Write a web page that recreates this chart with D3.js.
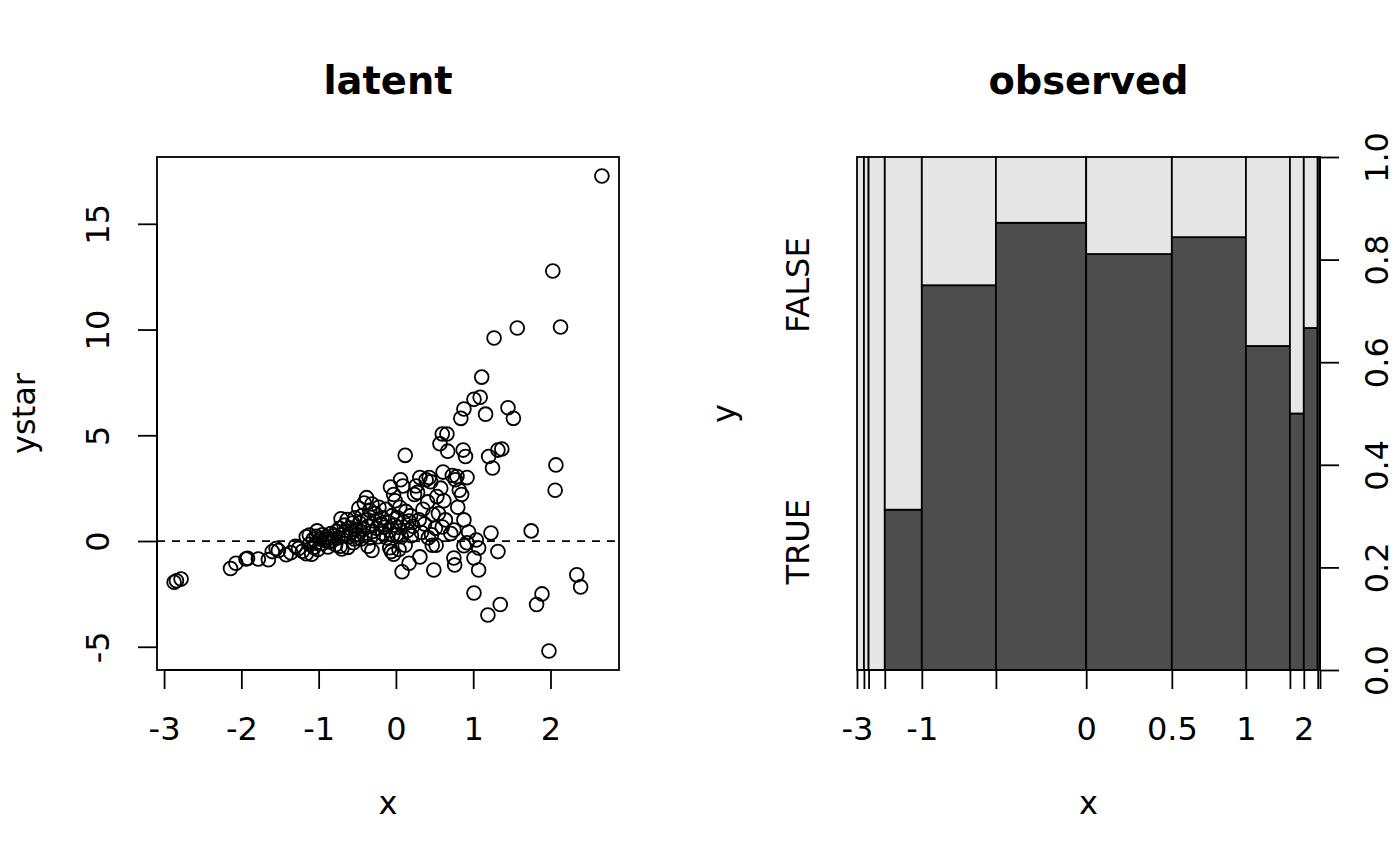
<!DOCTYPE html>
<html>
<head>
<meta charset="utf-8">
<script src="https://cdn.jsdelivr.net/npm/d3@7"></script>
<style>
  body { margin: 0; background: #fff; }
  text { font-family: "DejaVu Sans", sans-serif; fill: #000; }
</style>
</head>
<body>
<div id="chart"></div>
<script>
// latent variable: x and ystar (200 points)
const latentX = [
  -2.87, -2.84, -2.78, -2.14, -2.07, -1.94, -1.92, -1.78, -1.65, -1.60, -1.55, -1.52,
  -1.42, -1.36, -1.30, -1.26, -1.21, -1.16, -1.12, -1.09, -1.06, -1.03, -1.01, -1.16, -1.12, -1.07, -1.03, -1.02,
  -0.95, -0.88, -0.85, -0.78, -0.72, -0.70, -0.62, -0.55,
  -0.98, -0.95, -0.92, -0.90, -0.87, -0.84, -0.82, -0.80, -0.77, -0.75, -0.73, -0.71,
  -0.69, -0.67, -0.65, -0.63, -0.61, -0.60, -0.58, -0.56, -0.54, -0.53, -0.52, -0.51,
  -0.36, -0.31, -0.08, -0.06, -0.03,
  -0.49, -0.48, -0.47, -0.45, -0.44, -0.42, -0.41, -0.40, -0.38, -0.37, -0.36, -0.34,
  -0.33, -0.31, -0.30, -0.28, -0.27, -0.25, -0.23, -0.22, -0.20, -0.18, -0.17, -0.15,
  -0.13, -0.12, -0.10, -0.08, -0.07, -0.05, -0.04, -0.03, -0.02, -0.01,
  0.04, 0.08, 0.12, 0.17, 0.31, 0.47, 0.49,
  0.01, 0.02, 0.03, 0.05, 0.06, 0.07, 0.09, 0.10, 0.12, 0.13, 0.15, 0.17, 0.19, 0.20, 0.22,
  0.24, 0.26, 0.28, 0.30, 0.31, 0.33, 0.35, 0.37, 0.39, 0.41, 0.42, 0.43, 0.45, 0.46, 0.48,
  0.52, 0.75, 0.76, 0.88, 0.92,
  0.51, 0.53, 0.55, 0.57, 0.58, 0.60, 0.60, 0.61, 0.62, 0.64, 0.66, 0.67, 0.87, 0.71,
  0.73, 0.75, 0.77, 0.79, 0.80, 0.82, 0.84, 0.85, 0.88, 0.88, 0.90, 0.92, 0.94,
  1.01, 1.07, 1.07, 1.01, 1.19, 1.35, 1.32,
  1.01, 1.04, 1.09, 1.11, 1.16, 1.20, 1.23, 1.25, 1.27, 1.32, 1.37, 1.45,
  1.52, 1.57, 1.75, 1.82, 1.89, 1.98, 2.03, 2.13, 2.07, 2.06, 2.34, 2.39, 2.665
];
const latentY = [
  -1.95, -1.88, -1.80, -1.30, -1.05, -0.85, -0.82, -0.85, -0.88, -0.50, -0.35, -0.45,
  -0.65, -0.55, -0.25, -0.35, -0.48, -0.60, -0.15, -0.62, -0.30, -0.10, -0.40, 0.20, 0.28, 0.08, 0.22, 0.48,
  -0.12, -0.28, -0.05, -0.18, -0.25, -0.38, -0.30, -0.08,
  0.10, 0.30, 0.05, 0.20, 0.12, 0.35, 0.02, 0.25, 0.45, 0.15, 0.60, 1.05,
  0.30, 0.75, 0.50, 1.02, 0.20, 0.62, 0.40, 0.85, 0.10, 1.10, 0.55, 0.30,
  -0.25, -0.45, -0.32, -0.50, -0.62,
  0.30, 1.55, 0.85, 0.10, 1.20, 0.55, 1.80, 0.25, 2.05, 1.00, 0.70, 1.45,
  0.15, 1.75, 0.45, 0.95, 1.30, 0.60, 0.20, 1.60, 0.80, 1.10, 0.35, 0.65,
  1.50, 0.15, 0.90, 0.50, 2.55, 1.20, 0.30, 2.20, 0.75, 1.90,
  -0.40, -1.45, -0.20, -1.05, -0.75, -0.20, -1.37,
  0.30, 1.10, 0.65, 1.60, 2.90, 0.20, 2.60, 0.90, 4.05, 1.40, 0.50, 0.95, 1.20, 0.25, 0.70,
  2.20, 2.60, 2.30, 1.00, 3.00, 0.40, 1.50, 0.80, 2.90, 1.85, 0.15, 3.00, 2.80, 0.30, 1.25,
  -0.20, -0.80, -1.13, -0.22, -0.08,
  0.60, 2.10, 1.30, 4.60, 2.50, 5.06, 0.66, 3.26, 1.90, 1.00, 5.06, 4.25, 4.30, 0.35,
  3.10, 0.52, 2.90, 3.05, 1.60, 2.40, 5.80, 2.20, 6.24, 1.00, 4.00, 3.00, 0.43,
  -0.80, -1.37, -0.33, -2.46, -3.50, -3.00, -0.50,
  6.70, 0.05, 6.80, 7.75, 6.00, 4.00, 0.38, 3.45, 9.60, 4.30, 4.35, 6.30,
  5.80, 10.07, 0.48, -3.00, -2.50, -5.20, 12.77, 10.12, 3.60, 2.40, -1.60, -2.17, 17.26
];

const latentXTicks = [-3, -2, -1, 0, 1, 2];
const latentYTicks = [-5, 0, 5, 10, 15];

// spinogram of y = ystar > 0 over x
const spineBreaks = [-3, -2.5, -2, -1.5, -1, -0.5, 0, 0.5, 1, 1.5, 2, 2.5, 3];
const spineXLabels = [-3, -1, 0, 0.5, 1, 2];
const spineYTicks = [0, 0.2, 0.4, 0.6, 0.8, 1];
const spineLevels = ["TRUE", "FALSE"];
const spineFill = ["#4d4d4d", "#e6e6e6"];

const W = 1400, H = 866;
const plotTop = 157, plotBottom = 670;
const tickLen = 19, lw = 1.8, fs = 32;

const svg = d3.select("#chart").append("svg")
    .attr("width", W)
    .attr("height", H);

// R style: extend the data range by 4%
function padExtent(v) {
    const [a, b] = d3.extent(v);
    const p = (b - a) * 0.04;
    return [a - p, b + p];
}

// tidy a d3 axis to look like base R
function rStyle(g, vals, scale, horizontal) {
    g.attr("font-size", fs).attr("font-family", "DejaVu Sans, sans-serif");
    g.select(".domain").remove();
    g.selectAll(".tick line").attr("stroke", "#000").attr("stroke-width", lw);
    const a = scale(vals[0]), b = scale(vals[vals.length - 1]);
    g.append("line")
        .attr(horizontal ? "x1" : "y1", a).attr(horizontal ? "x2" : "y2", b)
        .attr("stroke", "#000").attr("stroke-width", lw);
}

// ---------- left panel: latent ----------
const L = {x0: 157, x1: 619};
const x = d3.scaleLinear().domain(padExtent(latentX)).range([L.x0, L.x1]);
const y = d3.scaleLinear().domain(padExtent(latentY)).range([plotBottom, plotTop]);

svg.append("line")
    .attr("x1", L.x0).attr("x2", L.x1)
    .attr("y1", y(0)).attr("y2", y(0))
    .attr("stroke", "#000").attr("stroke-width", lw)
    .attr("stroke-dasharray", "8,7");

svg.append("g").selectAll("circle")
    .data(latentX)
    .join("circle")
    .attr("cx", d => x(d))
    .attr("cy", (d, i) => y(latentY[i]))
    .attr("r", 6.9)
    .attr("fill", "none")
    .attr("stroke", "#000")
    .attr("stroke-width", 1.8);

svg.append("rect")
    .attr("x", L.x0).attr("y", plotTop)
    .attr("width", L.x1 - L.x0).attr("height", plotBottom - plotTop)
    .attr("fill", "none").attr("stroke", "#000").attr("stroke-width", lw);

svg.append("g")
    .attr("transform", `translate(0,${plotBottom})`)
    .call(d3.axisBottom(x).tickValues(latentXTicks).tickSize(tickLen).tickFormat(d => String(d)))
    .call(g => rStyle(g, latentXTicks, x, true))
    .call(g => g.selectAll(".tick text").attr("y", 70).attr("dy", null).attr("fill", "#000"));

svg.append("g")
    .attr("transform", `translate(${L.x0},0)`)
    .call(d3.axisLeft(y).tickValues(latentYTicks).tickSize(tickLen).tickFormat(d => String(d)))
    .call(g => rStyle(g, latentYTicks, y, false))
    .call(g => g.selectAll(".tick text")
        .attr("x", null).attr("dy", null).attr("fill", "#000")
        .attr("text-anchor", "middle")
        .attr("transform", "translate(-48,0) rotate(-90)"));

// ---------- right panel: observed ----------
const R = {x0: 857, x1: 1320};
const idx = d3.range(latentX.length);
const bins = d3.bin()
    .value(i => latentX[i])
    .domain([spineBreaks[0], spineBreaks[spineBreaks.length - 1]])
    .thresholds(spineBreaks.slice(1, -1))(idx);
const counts = bins.map(b => b.length);
const trueCounts = bins.map(b => b.filter(i => latentY[i] > 0).length);
const cum = [0, ...d3.cumsum(counts)];

const sx = d3.scaleLinear().domain([0, latentX.length]).range([R.x0, R.x1]);
const sy = d3.scaleLinear().domain([0, 1]).range([plotBottom, plotTop]);

const segs = [];
bins.forEach((b, k) => {
    if (!counts[k]) return;
    const p = trueCounts[k] / counts[k];
    segs.push({k, lo: 0, hi: p, lvl: 0});
    segs.push({k, lo: p, hi: 1, lvl: 1});
});

svg.append("g").selectAll("rect")
    .data(segs.filter(s => s.hi > s.lo))
    .join("rect")
    .attr("x", d => sx(cum[d.k]))
    .attr("width", d => sx(cum[d.k + 1]) - sx(cum[d.k]))
    .attr("y", d => sy(d.hi))
    .attr("height", d => sy(d.lo) - sy(d.hi))
    .attr("fill", d => spineFill[d.lvl])
    .attr("stroke", "#000")
    .attr("stroke-width", lw);

svg.append("g")
    .attr("transform", `translate(0,${plotBottom})`)
    .call(d3.axisBottom(sx).tickValues(cum).tickSize(tickLen)
        .tickFormat((d, i) => spineXLabels.includes(spineBreaks[i]) ? String(spineBreaks[i]) : ""))
    .call(g => rStyle(g, cum, sx, true))
    .call(g => g.selectAll(".tick text").attr("y", 70).attr("dy", null).attr("fill", "#000"));

svg.append("g")
    .attr("transform", `translate(${R.x1},0)`)
    .call(d3.axisRight(sy).tickValues(spineYTicks).tickSize(tickLen).tickFormat(d3.format(".1f")))
    .call(g => rStyle(g, spineYTicks, sy, false))
    .call(g => g.selectAll(".tick text")
        .attr("x", null).attr("dy", null).attr("fill", "#000")
        .attr("text-anchor", "middle")
        .attr("transform", "translate(68,0) rotate(-90)"));

svg.append("g").selectAll("text")
    .data(spineLevels)
    .join("text")
    .attr("transform", (d, i) => `translate(${R.x0 - 48},${sy((i + 0.5) / spineLevels.length)}) rotate(-90)`)
    .attr("text-anchor", "middle")
    .attr("font-size", fs)
    .text(d => d);

// ---------- titles and axis titles ----------
const panels = [
    {title: "latent", xlab: "x", ylab: "ystar", x0: L.x0, x1: L.x1},
    {title: "observed", xlab: "x", ylab: "y", x0: R.x0, x1: R.x1}
];
panels.forEach(p => {
    const cx = (p.x0 + p.x1) / 2, cy = (plotTop + plotBottom) / 2;
    svg.append("text")
        .attr("x", cx).attr("y", 94)
        .attr("text-anchor", "middle")
        .attr("font-size", 38.4).attr("font-weight", "bold")
        .text(p.title);
    svg.append("text")
        .attr("x", cx).attr("y", 814)
        .attr("text-anchor", "middle")
        .attr("font-size", fs)
        .text(p.xlab);
    svg.append("text")
        .attr("transform", `translate(${p.x0 - 122},${cy}) rotate(-90)`)
        .attr("text-anchor", "middle")
        .attr("font-size", fs)
        .text(p.ylab);
});
</script>
</body>
</html>
